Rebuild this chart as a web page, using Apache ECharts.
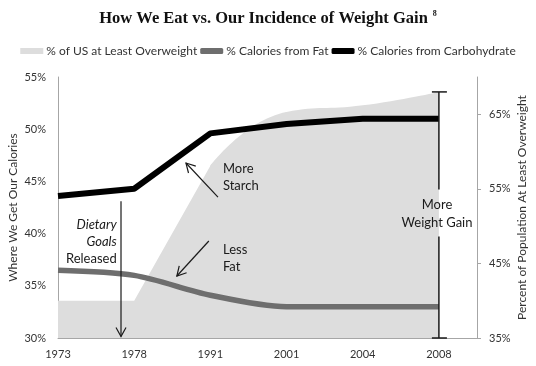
<!DOCTYPE html>
<html><head><meta charset="utf-8">
<script src="https://cdn.jsdelivr.net/npm/echarts@6/dist/echarts.min.js"></script>
<style>html,body{margin:0;padding:0;background:#fff}#c{width:536px;height:366px}</style>
</head><body><div id="c"></div>
<script>
const years = ['1973','1978','1991','2001','2004','2008'];
const overweight = [40, 40, 58.1, 65.3, 66.2, 68.0];
const fatPct = [36.5, 36.0, 34.1, 33.0, 33.0, 33.0];
const carbPct = [43.6, 44.3, 49.6, 50.5, 51.0, 51.0];
const leftTicks = {min: 30, max: 55, interval: 5};
const rightTicks = {min: 35, max: 70, interval: 10};

(function () {
const F = 'Lato, "Open Sans", sans-serif';
const areaColor = '#dddddd';
const pairs = arr => arr.map((v, i) => [i, v]);
const owA = overweight.map((v, i) => [i, i <= 3 ? v : null]);
const owB = overweight.map((v, i) => [i, i >= 2 ? v : null]);

const chart = echarts.init(document.getElementById('c'));
const option = {
  animation: false,
  title: {
    text: '{t|How We Eat vs. Our Incidence of Weight Gain} {s|8}',
    left: 'center', top: 5,
    textStyle: {
      rich: {
        t: {fontFamily: '"Liberation Serif", serif', fontWeight: 'bold', fontSize: 16.5, color: '#111'},
        s: {fontFamily: '"Liberation Serif", serif', fontSize: 8, color: '#111', verticalAlign: 'top', padding: [0, 0, 8, 0]}
      }
    }
  },
  legend: {
    top: 40, left: 'center', itemGap: 3, itemWidth: 23, itemHeight: 6,
    textStyle: {fontFamily: F, fontSize: 12, color: '#333', padding: [0, 0, 0, -2]},
    data: [
      {name: '% of US at Least Overweight', icon: 'rect'},
      {name: '% Calories from Fat', icon: 'roundRect'},
      {name: '% Calories from Carbohydrate', icon: 'roundRect'}
    ]
  },
  grid: {left: 58, right: 59, top: 77, bottom: 28, outerBoundsMode: 'none', containLabel: false},
  xAxis: {
    type: 'value', min: 0, max: 5.5, interval: 1,
    axisLine: {show: true, lineStyle: {color: '#a6a6a6', width: 1}},
    axisTick: {show: false}, splitLine: {show: false},
    axisLabel: {showMaxLabel: false, margin: 11, fontFamily: F, fontSize: 11, color: '#333',
      formatter: v => Number.isInteger(v) ? years[v] : ''}
  },
  yAxis: [
    {
      type: 'value', min: leftTicks.min, max: leftTicks.max, interval: leftTicks.interval,
      name: 'Where We Get Our Calories', nameLocation: 'middle', nameGap: 39, nameRotate: 90, nameMoveOverlap: false,
      nameTextStyle: {fontFamily: F, fontSize: 12, color: '#333'},
      axisLine: {show: true, lineStyle: {color: '#a6a6a6'}},
      axisTick: {show: false}, splitLine: {show: false},
      axisLabel: {margin: 12, fontFamily: F, fontSize: 11, color: '#333', formatter: '{value}%'}
    },
    {
      type: 'value', position: 'right', min: rightTicks.min, max: rightTicks.max, interval: rightTicks.interval,
      name: 'Percent of Population At Least Overweight', nameLocation: 'middle', nameGap: 39, nameRotate: 90, nameMoveOverlap: false,
      nameTextStyle: {fontFamily: F, fontSize: 12, color: '#333'},
      axisLine: {show: true, lineStyle: {color: '#a6a6a6'}},
      axisTick: {show: true, length: 4, lineStyle: {color: '#a6a6a6'}}, splitLine: {show: false},
      axisLabel: {showMaxLabel: false, margin: 12, fontFamily: F, fontSize: 11, color: '#333', formatter: '{value}%'}
    }
  ],
  series: [
    {name: '% of US at Least Overweight', type: 'line', yAxisIndex: 1, data: owA, symbol: 'none',
      itemStyle: {color: areaColor}, lineStyle: {width: 0, color: areaColor},
      areaStyle: {color: areaColor, opacity: 1}},
    {name: '% of US at Least Overweight', type: 'line', yAxisIndex: 1, data: owB, symbol: 'none', smooth: 0.5,
      itemStyle: {color: areaColor}, lineStyle: {width: 0, color: areaColor},
      areaStyle: {color: areaColor, opacity: 1}},
    {name: '% Calories from Fat', type: 'line', yAxisIndex: 0, data: pairs(fatPct), symbol: 'none', smooth: 0.3,
      itemStyle: {color: '#6e6e6e'}, lineStyle: {width: 5.5, color: '#6e6e6e'}},
    {name: '% Calories from Carbohydrate', type: 'line', yAxisIndex: 0, data: pairs(carbPct), symbol: 'none',
      itemStyle: {color: '#000'}, lineStyle: {width: 6, color: '#000'}}
  ]
};
chart.setOption(option);

function P(x, y, ax) { return chart.convertToPixel({xAxisIndex: 0, yAxisIndex: ax || 0}, [x, y]); }
const ink = '#1a1a1a';
const AF = '13px ' + F;
const AFi = 'italic 13px ' + F;
function line(a, b, w) {
  return {type: 'polyline', shape: {points: [a, b]}, style: {stroke: ink, lineWidth: w || 1.2, fill: null}, silent: true, z: 100};
}
function arrow(from, to) {
  const dx = to[0] - from[0], dy = to[1] - from[1];
  const L = Math.hypot(dx, dy), ux = dx / L, uy = dy / L, nx = -uy, ny = ux;
  const hl = 9, hw = 5;
  const p1 = [to[0] - ux * hl + nx * hw, to[1] - uy * hl + ny * hw];
  const p2 = [to[0] - ux * hl - nx * hw, to[1] - uy * hl - ny * hw];
  return [line(from, to), {type: 'polyline', shape: {points: [p1, to, p2]}, style: {stroke: ink, lineWidth: 1.2, fill: null}, silent: true, z: 100}];
}
function text(t, p, align, font) {
  return {type: 'text', x: p[0], y: p[1], silent: true, z: 101,
    style: {text: t, font: font || AF, fill: ink, align: align, textAlign: align, verticalAlign: 'middle', textVerticalAlign: 'middle'}};
}
const g = [];
g.push(...arrow(P(0.827, 43.1), P(0.827, 30.15)));
g.push(text('Dietary', P(0.77, 40.8), 'right', AFi));
g.push(text('Goals', P(0.77, 39.2), 'right', AFi));
g.push(text('Released', P(0.77, 37.6), 'right'));
g.push(...arrow(P(2.10, 43.5), P(1.68, 46.76)));
g.push(text('More', P(2.165, 46.19), 'left'));
g.push(text('Starch', P(2.165, 44.56), 'left'));
g.push(...arrow(P(1.98, 39.29), P(1.56, 35.94)));
g.push(text('Less', P(2.165, 38.43), 'left'));
g.push(text('Fat', P(2.165, 36.80), 'left'));
const barTop = P(5, overweight[5], 1), barBot = P(5, rightTicks.min, 1);
const gapTop = P(5, 54.9, 1), gapBot = P(5, 48.6, 1);
g.push(line([barTop[0] - 7, barTop[1]], [barTop[0] + 8, barTop[1]], 1.5));
g.push(line([barBot[0] - 7, barBot[1]], [barBot[0] + 8, barBot[1]], 1.5));
g.push(line(barTop, gapTop, 1.5));
g.push(line(gapBot, barBot, 1.5));
g.push(text('More', P(4.975, 52.8, 1), 'center'));
g.push(text('Weight Gain', P(4.975, 50.5, 1), 'center'));
chart.setOption({graphic: g});
})();
</script></body></html>
